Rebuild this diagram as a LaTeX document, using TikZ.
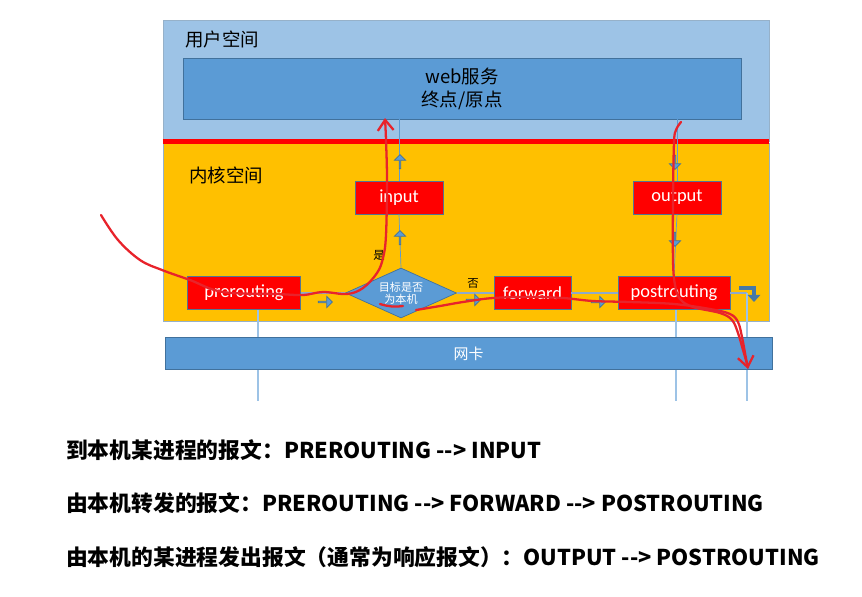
\documentclass[tikz,border=0pt]{standalone}
\usepackage{fontspec}
\setmainfont{Carlito}
\newfontfamily\cjk{Noto Sans CJK SC}
\usetikzlibrary{arrows.meta,shapes.geometric,shapes.arrows}
\definecolor{userblue}{HTML}{9DC3E6}
\definecolor{mainblue}{HTML}{5B9BD5}
\definecolor{edgeblue}{HTML}{41719C}
\definecolor{kernelgold}{HTML}{FFC000}
\definecolor{hookred}{HTML}{FF0000}
\definecolor{pen}{HTML}{E8232B}
\definecolor{wire}{HTML}{8EAACB}

\begin{document}
\begin{tikzpicture}[x=0.02cm,y=-0.02cm,>=Latex]
\tikzstyle{space}=[draw=edgeblue!55,minimum width=12.12cm,inner sep=0pt]
\tikzstyle{hook}=[draw=edgeblue!70!gray,fill=hookred,text=white,minimum height=0.66cm,inner sep=0pt,font=\fontsize{10.5}{12}\selectfont]
\tikzstyle{blk}=[single arrow,draw=edgeblue,fill=mainblue,minimum height=0.28cm,minimum width=0.22cm,single arrow head extend=0.05cm,inner sep=0pt]
\tikzstyle{zh}=[font=\cjk\fontsize{10.5}{13}\selectfont]
\tikzstyle{scribble}=[pen,line width=1.3pt,line cap=round,line join=round]
\tikzstyle{note}=[anchor=west,font=\cjk\bfseries\fontsize{12.4}{14}\selectfont]
\useasboundingbox (0,0) rectangle (862,596);

% user space
\node[space,fill=userblue,minimum height=2.42cm] (user) at (466,80.5) {};
\node[zh,anchor=west] (userlbl) at (179,39) {用户空间};
\node[zh,draw=edgeblue,fill=mainblue,minimum width=11.16cm,minimum height=1.22cm,align=center] (web) at (462,88.5) {web服务\\终点/原点};

% kernel space
\node[space,fill=kernelgold,minimum height=3.56cm] (kern) at (466,232) {};
\node[zh,anchor=west] (kernlbl) at (183,175) {内核空间};
\draw[hookred,line width=2.5pt] (user.south west) -- (user.south east);

% hooks
\node[hook,minimum width=1.76cm] (inp) at (399,197.5) {input};
\node[hook,minimum width=1.76cm] (out) at (677,197.5) {output};
\node[hook,minimum width=2.26cm] (pre) at (244,293) {prerouting};
\node[diamond,draw=edgeblue,fill=mainblue,aspect=2.2,minimum width=2.22cm,minimum height=1.0cm,inner sep=0pt,
      text=white,align=center,font=\cjk\fontsize{6.3}{6.8}\selectfont] (dec) at (401,293) {目标是否\\为本机};
\node[hook,minimum width=1.54cm] (fwd) at (532.5,293) {forward};
\node[hook,minimum width=2.24cm] (post) at (674,293) {postrouting};

% wires
\coordinate (bot) at (0,401);
\coordinate (rt) at (747,293);
\draw[mainblue,thin] (web.south -| inp.north) -- (inp.north);
\draw[mainblue,thin] (inp.south) -- (dec.north);
\draw[mainblue,thin] (web.south -| out.north) -- (out.north);
\draw[mainblue,thin] (out.south) -- (post.north);
\draw[wire,line width=0.8pt] (pre.east) -- (dec.west);
\draw[wire,line width=0.8pt] (dec.east) -- (fwd.west);
\draw[wire,line width=0.8pt] (fwd.east) -- (post.west);
\draw[wire,line width=0.8pt] (post.east) -- (rt);
\draw[userblue,line width=0.8pt] (rt) -- (rt |- bot);
\draw[userblue,line width=0.8pt] ([xshift=0.28cm]pre.south) -- ([xshift=0.28cm]pre.south |- bot);
\draw[userblue,line width=0.8pt] ([xshift=0.04cm]post.south) -- ([xshift=0.04cm]post.south |- bot);

% network card
\node[draw=edgeblue,fill=mainblue,minimum width=12.14cm,minimum height=0.64cm,inner sep=0pt,text=white,
      font=\cjk\fontsize{8.5}{10}\selectfont] (nic) at (468.5,353.5) {网卡};

% direction marks
\foreach \n/\p/\r in {a1/{325,302}/0,a2/{473,300}/0,a3/{598,302}/0,a4/{400,162}/90,a5/{400,238}/90,a6/{675,162}/-90,a7/{675,239}/-90}
  \node[blk,rotate=\r] (\n) at (\p) {};
\draw[-{Triangle[length=4pt,width=7pt]},edgeblue!80!mainblue,line width=2pt] (739,288) -- (754,288) -- (754,302);

\node[font=\cjk\fontsize{6.5}{7}\selectfont] (yes) at (379,255) {是};
\node[font=\cjk\fontsize{6.5}{7}\selectfont] (no) at (473,283) {否};

% hand-drawn paths
\draw[scribble,-{Straight Barb[length=6pt,width=9pt]}] plot[smooth,tension=0.6] coordinates {(101,215) (118,240) (140,260) (162,270) (190,280) (223,292) (277,294) (303,295) (323,292) (347,294) (363,288) (377,273) (383,258) (386,235) (387,180) (386,140) (385,118)};
\draw[scribble,-{Straight Barb[length=6pt,width=9pt]}] plot[smooth,tension=0.6] coordinates {(416,310) (440,306) (463,302) (493,298) (530,297) (563,298) (593,301) (630,302) (674,304) (710,309) (730,314) (738,322) (742,337) (745,353) (748,369)};
\draw[scribble] plot[smooth,tension=0.6] coordinates {(681,122) (676,130) (674,143) (673,200) (673,260) (675,285) (680,299) (693,307) (720,313) (732,320) (738,333) (743,350) (748,367)};
\draw[scribble] (380,304) to[bend right=12] (403,306);

% notes
\node[note] (n1) at (60,450) {到本机某进程的报文：PREROUTING --> INPUT};
\node[note] (n2) at (60,503) {由本机转发的报文：PREROUTING --> FORWARD --> POSTROUTING};
\node[note] (n3) at (60,557) {由本机的某进程发出报文（通常为响应报文）：OUTPUT --> POSTROUTING};
\end{tikzpicture}
\end{document}
